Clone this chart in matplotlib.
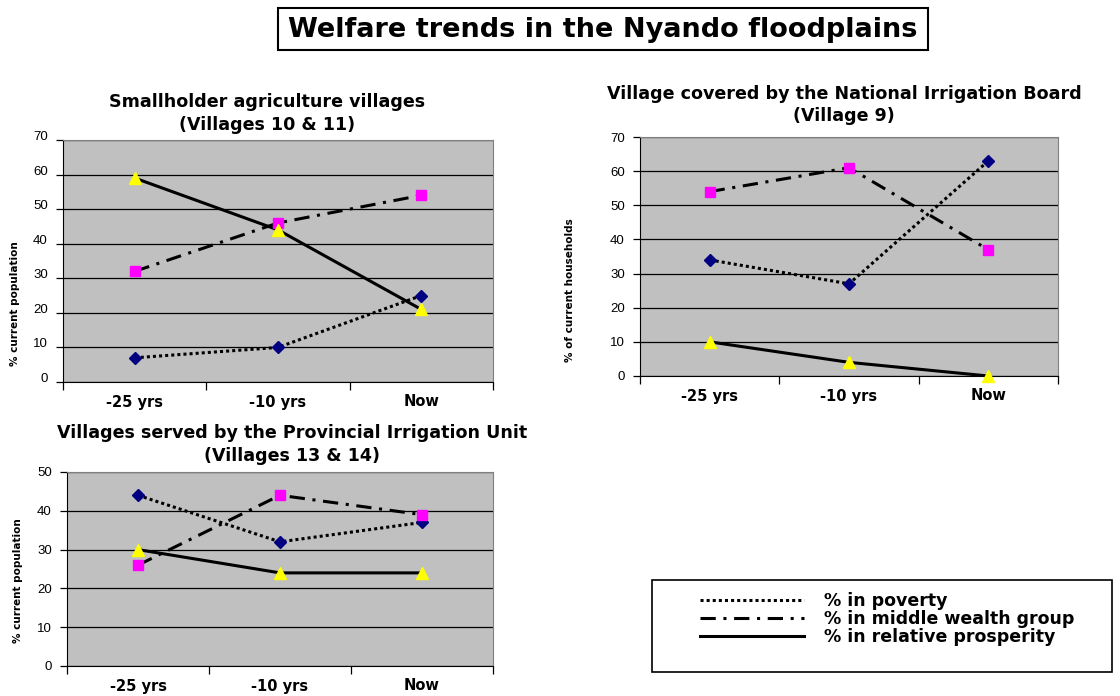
import matplotlib
matplotlib.use("Agg")
import matplotlib.pyplot as plt
from matplotlib.lines import Line2D
from matplotlib.patches import Rectangle

plt.rcParams['font.family'] = ['Liberation Sans', 'DejaVu Sans']
BOLD = ['DejaVu Sans']

W, H = 1120, 696

periods = ['-25 yrs', '-10 yrs', 'Now']
series_names = ['% in poverty', '% in middle wealth group', '% in relative prosperity']

# panel 1: smallholder agriculture
small_poverty = [7, 10, 25]
small_middle = [32, 46, 54]
small_prosper = [59, 44, 21]

# panel 2: national irrigation board
nib_poverty = [34, 27, 63]
nib_middle = [54, 61, 37]
nib_prosper = [10, 4, 0]

# panel 3: provincial irrigation unit
piu_poverty = [44, 32, 37]
piu_middle = [26, 44, 39]
piu_prosper = [30, 24, 24]

line_styles = [(0, (1, 1)), (0, (5, 2.5, 1, 2.5)), '-']
marker_styles = [('D', '#000080', 6), ('s', '#FF00FF', 6.5), ('^', '#FFFF00', 8)]


def fx(x):
    return x / W


def fy(y):
    return 1 - y / H


def panel(fig, box, values, ymax, title, ylabel, title_xy, ylabel_xy, tick_va='center_baseline'):
    l, t, r, b = box
    ax = fig.add_axes([fx(l), fy(b), fx(r - l), (b - t) / H])
    ax.set_facecolor('#C0C0C0')
    x = list(range(len(periods)))
    for vals, ls, (m, c, ms) in zip(values, line_styles, marker_styles):
        ax.plot(x, vals, color='black', lw=2.2, linestyle=ls, zorder=3)
        ax.plot(x, vals, linestyle='none', marker=m, color=c, mec=c, ms=ms, zorder=4, clip_on=False)
    ax.set_xlim(-0.5, 2.5)
    ax.set_ylim(0, ymax)
    ax.set_yticks(range(0, ymax + 1, 10))
    ax.yaxis.grid(True, color='black', lw=0.9)
    ax.set_axisbelow(True)
    ax.set_xticks(x)
    ax.set_xticklabels(periods, fontsize=10.5, fontweight='bold', family=BOLD)
    ax.set_xticks([-0.5, 0.5, 1.5, 2.5], minor=True)
    ax.tick_params(axis='x', which='major', length=0, pad=9)
    ax.tick_params(axis='x', which='minor', length=6, direction='out', width=0.9)
    ax.tick_params(axis='y', length=5, width=0.9, labelsize=9.5, pad=6)
    for lab in ax.get_yticklabels():
        lab.set_va(tick_va)
    for s in ['top', 'right']:
        ax.spines[s].set_color('#808080')
    for s in ['left', 'bottom']:
        ax.spines[s].set_color('black')
    fig.text(fx(title_xy[0]), fy(title_xy[1]), title, ha='center', va='center',
             fontsize=12.6, fontweight='bold', family=BOLD, linespacing=1.3)
    fig.text(fx(ylabel_xy[0]), fy(ylabel_xy[1]), ylabel, ha='center', va='center',
             rotation=90, fontsize=7.5, fontweight='bold', family=BOLD)
    return ax


fig = plt.figure(figsize=(W / 100, H / 100), dpi=100)

# main title in its box
fig.patches.append(Rectangle((fx(278), fy(50)), (928 - 278) / W, (50 - 8) / H,
                             transform=fig.transFigure, fill=False, ec='black', lw=1.5))
fig.text(fx(603), fy(30), 'Welfare trends in the Nyando floodplains', ha='center', va='center',
         fontsize=19.5, fontweight='bold', family=BOLD)

panel(fig, (63, 140, 493, 382), [small_poverty, small_middle, small_prosper], 70,
      'Smallholder agriculture villages\n(Villages 10 & 11)', '% current population',
      (267, 113.5), (15, 304), tick_va='baseline')
panel(fig, (640, 137, 1058, 376), [nib_poverty, nib_middle, nib_prosper], 70,
      'Village covered by the National Irrigation Board\n(Village 9)', '% of current households',
      (844, 105), (570, 290))
panel(fig, (67, 472, 493, 666), [piu_poverty, piu_middle, piu_prosper], 50,
      'Villages served by the Provincial Irrigation Unit\n(Villages 13 & 14)', '% current population',
      (292, 444.5), (18, 581))

# legend box
fig.patches.append(Rectangle((fx(652), fy(672)), (1112 - 652) / W, (672 - 580) / H,
                             transform=fig.transFigure, fill=False, ec='black', lw=1.2))
handles = [Line2D([], [], color='black', lw=2.2, linestyle=ls) for ls in line_styles]
fig.legend(handles, series_names, loc='center left', bbox_to_anchor=(fx(684), fy(619)),
           frameon=False, prop={'weight': 'bold', 'size': 12.5, 'family': BOLD},
           handlelength=6.0, handletextpad=1.15, labelspacing=0.0)

fig.savefig('out.png', dpi=100)
